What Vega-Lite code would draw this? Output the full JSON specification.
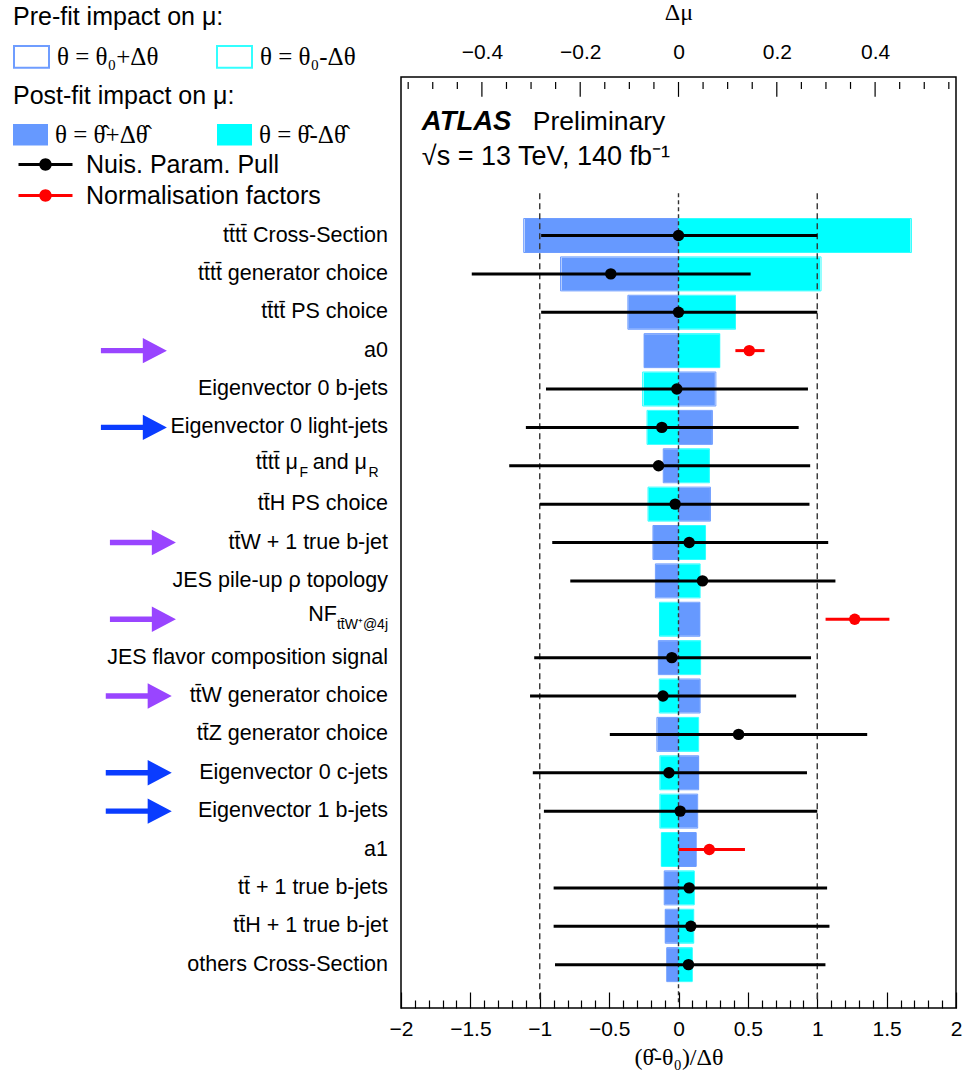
{
  "$schema": "https://vega.github.io/schema/vega-lite/v6.json",
  "width": 555,
  "height": 931,
  "autosize": "none",
  "padding": {"left": 401, "top": 77, "right": 8, "bottom": 73},
  "background": "white",
  "config": {
    "view": {"stroke": "black", "strokeWidth": 1.5},
    "font": "Liberation Sans",
    "legend": {"padding": 0}
  },
  "datasets": {
    "impacts": [
      {"i": 0, "label": "tt\u0304tt\u0304 Cross-Section", "up": -0.313, "dn": 0.472, "pre_up": -0.315, "pre_dn": 0.474, "pull": 0.0, "lo": -0.99, "hi": 1.0, "type": "Nuis. Param. Pull"},
      {"i": 1, "label": "tt\u0304tt\u0304 generator choice", "up": -0.238, "dn": 0.288, "pre_up": -0.24, "pre_dn": 0.29, "pull": -0.488, "lo": -1.49, "hi": 0.52, "type": "Nuis. Param. Pull"},
      {"i": 2, "label": "tt\u0304tt\u0304 PS choice", "up": -0.102, "dn": 0.115, "pre_up": -0.103, "pre_dn": 0.116, "pull": 0.0, "lo": -0.99, "hi": 1.0, "type": "Nuis. Param. Pull"},
      {"i": 3, "label": "a0", "up": -0.07, "dn": 0.084, "pre_up": -0.07, "pre_dn": 0.084, "pull": 0.51, "lo": 0.41, "hi": 0.62, "type": "Normalisation factors"},
      {"i": 4, "label": "Eigenvector 0 b-jets", "up": 0.074, "dn": -0.071, "pre_up": 0.076, "pre_dn": -0.073, "pull": -0.012, "lo": -0.955, "hi": 0.933, "type": "Nuis. Param. Pull"},
      {"i": 5, "label": "Eigenvector 0 light-jets", "up": 0.068, "dn": -0.063, "pre_up": 0.069, "pre_dn": -0.064, "pull": -0.12, "lo": -1.1, "hi": 0.866, "type": "Nuis. Param. Pull"},
      {"i": 6, "label": "tt\u0304tt\u0304 \u03bc", "up": -0.0305, "dn": 0.062, "pre_up": -0.031, "pre_dn": 0.063, "pull": -0.144, "lo": -1.22, "hi": 0.949, "type": "Nuis. Param. Pull"},
      {"i": 7, "label": "tt\u0304H PS choice", "up": 0.064, "dn": -0.061, "pre_up": 0.065, "pre_dn": -0.062, "pull": -0.024, "lo": -0.998, "hi": 0.944, "type": "Nuis. Param. Pull"},
      {"i": 8, "label": "tt\u0304W + 1 true b-jet", "up": -0.0515, "dn": 0.054, "pre_up": -0.052, "pre_dn": 0.055, "pull": 0.077, "lo": -0.91, "hi": 1.079, "type": "Nuis. Param. Pull"},
      {"i": 9, "label": "JES pile-up \u03c1 topology", "up": -0.046, "dn": 0.0435, "pre_up": -0.047, "pre_dn": 0.044, "pull": 0.173, "lo": -0.78, "hi": 1.131, "type": "Nuis. Param. Pull"},
      {"i": 10, "label": "NF", "up": 0.0435, "dn": -0.0387, "pre_up": 0.0435, "pre_dn": -0.0387, "pull": 1.27, "lo": 1.06, "hi": 1.52, "type": "Normalisation factors"},
      {"i": 11, "label": "JES flavor composition signal", "up": -0.0407, "dn": 0.044, "pre_up": -0.041, "pre_dn": 0.045, "pull": -0.048, "lo": -1.04, "hi": 0.955, "type": "Nuis. Param. Pull"},
      {"i": 12, "label": "tt\u0304W generator choice", "up": 0.0435, "dn": -0.038, "pre_up": 0.044, "pre_dn": -0.039, "pull": -0.112, "lo": -1.07, "hi": 0.848, "type": "Nuis. Param. Pull"},
      {"i": 13, "label": "tt\u0304Z generator choice", "up": -0.0427, "dn": 0.04, "pre_up": -0.044, "pre_dn": 0.041, "pull": 0.433, "lo": -0.495, "hi": 1.36, "type": "Nuis. Param. Pull"},
      {"i": 14, "label": "Eigenvector 0 c-jets", "up": 0.041, "dn": -0.037, "pre_up": 0.041, "pre_dn": -0.038, "pull": -0.069, "lo": -1.05, "hi": 0.926, "type": "Nuis. Param. Pull"},
      {"i": 15, "label": "Eigenvector 1 b-jets", "up": 0.038, "dn": -0.037, "pre_up": 0.039, "pre_dn": -0.038, "pull": 0.012, "lo": -0.97, "hi": 1.0, "type": "Nuis. Param. Pull"},
      {"i": 16, "label": "a1", "up": 0.036, "dn": -0.035, "pre_up": 0.036, "pre_dn": -0.035, "pull": 0.222, "lo": 0.0, "hi": 0.479, "type": "Normalisation factors"},
      {"i": 17, "label": "tt\u0304 + 1 true b-jets", "up": -0.0285, "dn": 0.032, "pre_up": -0.029, "pre_dn": 0.032, "pull": 0.077, "lo": -0.9, "hi": 1.071, "type": "Nuis. Param. Pull"},
      {"i": 18, "label": "tt\u0304H + 1 true b-jet", "up": -0.027, "dn": 0.0305, "pre_up": -0.027, "pre_dn": 0.031, "pull": 0.089, "lo": -0.9, "hi": 1.088, "type": "Nuis. Param. Pull"},
      {"i": 19, "label": "others Cross-Section", "up": -0.0236, "dn": 0.028, "pre_up": -0.024, "pre_dn": 0.028, "pull": 0.072, "lo": -0.89, "hi": 1.059, "type": "Nuis. Param. Pull"}
    ],
    "pieces": [
      {"i": 6, "s": "F", "part": "sub1"},
      {"i": 6, "s": "and \u03bc", "part": "mid"},
      {"i": 6, "s": "R", "part": "sub2"},
      {"i": 10, "s": "tt\u0304W\u207a@4j", "part": "nfsub"}
    ],
    "arrows": [
      {"i": 3, "c": "purple", "g": "a"},
      {"i": 5, "c": "blue", "g": "a"},
      {"i": 8, "c": "purple", "g": "b"},
      {"i": 10, "c": "purple", "g": "b"},
      {"i": 12, "c": "purple", "g": "c"},
      {"i": 14, "c": "blue", "g": "c"},
      {"i": 15, "c": "blue", "g": "c"}
    ],
    "dmu_ticks": [
      {"v": -0.55, "major": false}, {"v": -0.5, "major": false}, {"v": -0.45, "major": false}, {"v": -0.4, "major": true},
      {"v": -0.35, "major": false}, {"v": -0.3, "major": false}, {"v": -0.25, "major": false}, {"v": -0.2, "major": true},
      {"v": -0.15, "major": false}, {"v": -0.1, "major": false}, {"v": -0.05, "major": false}, {"v": 0, "major": true},
      {"v": 0.05, "major": false}, {"v": 0.1, "major": false}, {"v": 0.15, "major": false}, {"v": 0.2, "major": true},
      {"v": 0.25, "major": false}, {"v": 0.3, "major": false}, {"v": 0.35, "major": false}, {"v": 0.4, "major": true},
      {"v": 0.45, "major": false}, {"v": 0.5, "major": false}, {"v": 0.55, "major": false}
    ],
    "guides": [{"x": -1}, {"x": 0}, {"x": 1}]
  },
  "layer": [
    {
      "data": {"name": "impacts"},
      "mark": {"type": "bar", "height": 34, "orient": "horizontal", "fill": "transparent", "strokeWidth": 1},
      "encoding": {
        "y": {"field": "i", "type": "quantitative", "scale": {"domain": [-4, 20], "reverse": true, "nice": false, "zero": false}, "axis": null},
        "x": {"field": "pre_up", "type": "quantitative", "scale": {"domain": [-0.5646, 0.5646], "nice": false, "zero": false}, "axis": null},
        "x2": {"datum": 0},
        "stroke": {"datum": "\u03b8 = \u03b8\u2080+\u0394\u03b8", "type": "nominal",
          "scale": {"domain": ["\u03b8 = \u03b8\u2080+\u0394\u03b8", "\u03b8 = \u03b8\u2080-\u0394\u03b8"], "range": ["#6f9dff", "#33ffff"]},
          "legend": {"title": "Pre-fit impact on \u03bc:", "orient": "none", "legendX": -388, "legendY": -72, "direction": "horizontal", "columns": 2,
            "symbolType": "M-1,-0.62H1V0.62H-1Z", "symbolSize": 1225, "symbolStrokeWidth": 2, "symbolFillColor": "white",
            "labelFont": "Liberation Serif", "labelFontSize": 25, "labelColor": "black", "labelOffset": 7, "labelLimit": 400,
            "titleFont": "Liberation Sans", "titleFontSize": 25, "titleFontWeight": "normal", "titleColor": "black", "titlePadding": 8, "titleLimit": 500, "columnPadding": 54}}
      }
    },
    {
      "data": {"name": "impacts"},
      "mark": {"type": "bar", "height": 34, "orient": "horizontal", "fill": "transparent", "strokeWidth": 1},
      "encoding": {
        "y": {"field": "i", "type": "quantitative", "scale": {"domain": [-4, 20], "reverse": true, "nice": false, "zero": false}, "axis": null},
        "x": {"field": "pre_dn", "type": "quantitative", "scale": {"domain": [-0.5646, 0.5646], "nice": false, "zero": false}, "axis": null},
        "x2": {"datum": 0},
        "stroke": {"datum": "\u03b8 = \u03b8\u2080-\u0394\u03b8", "type": "nominal"}
      }
    },
    {
      "data": {"name": "impacts"},
      "mark": {"type": "bar", "height": 33, "orient": "horizontal"},
      "encoding": {
        "y": {"field": "i", "type": "quantitative", "scale": {"domain": [-4, 20], "reverse": true, "nice": false, "zero": false}, "axis": null},
        "x": {"field": "up", "type": "quantitative", "scale": {"domain": [-0.5646, 0.5646], "nice": false, "zero": false}, "axis": null},
        "x2": {"datum": 0},
        "fill": {"datum": "\u03b8 = \u03b8\u0302+\u0394\u03b8\u0302", "type": "nominal",
          "scale": {"domain": ["\u03b8 = \u03b8\u0302+\u0394\u03b8\u0302", "\u03b8 = \u03b8\u0302-\u0394\u03b8\u0302"], "range": ["#6699ff", "#00ffff"]},
          "legend": {"title": "Post-fit impact on \u03bc:", "orient": "none", "legendX": -388, "legendY": 7, "direction": "horizontal", "columns": 2,
            "symbolType": "M-1,-0.62H1V0.62H-1Z", "symbolSize": 1225, "symbolStrokeWidth": 0,
            "labelFont": "Liberation Serif", "labelFontSize": 25, "labelColor": "black", "labelOffset": 7, "labelLimit": 400,
            "titleFont": "Liberation Sans", "titleFontSize": 25, "titleFontWeight": "normal", "titleColor": "black", "titlePadding": 8, "titleLimit": 500, "columnPadding": 69}}
      }
    },
    {
      "data": {"name": "impacts"},
      "mark": {"type": "bar", "height": 33, "orient": "horizontal"},
      "encoding": {
        "y": {"field": "i", "type": "quantitative", "scale": {"domain": [-4, 20], "reverse": true, "nice": false, "zero": false}, "axis": null},
        "x": {"field": "dn", "type": "quantitative", "scale": {"domain": [-0.5646, 0.5646], "nice": false, "zero": false}, "axis": null},
        "x2": {"datum": 0},
        "fill": {"datum": "\u03b8 = \u03b8\u0302-\u0394\u03b8\u0302", "type": "nominal"}
      }
    },
    {
      "data": {"name": "dmu_ticks"},
      "transform": [{"filter": "datum.major"}],
      "mark": {"type": "rule", "color": "black", "strokeWidth": 1.2},
      "encoding": {
        "x": {"field": "v", "type": "quantitative", "scale": {"domain": [-0.5646, 0.5646], "nice": false, "zero": false},
          "axis": {
            "orient": "top", "title": "\u0394\u03bc", "titleFont": "Liberation Serif", "titleFontSize": 24, "titleFontWeight": "normal", "titleColor": "black", "titlePadding": 17,
            "values": [-0.4, -0.2, 0, 0.2, 0.4], "ticks": false,
            "labelExpr": "datum.value == 0 ? '0' : format(datum.value, '.1f')",
            "labelFontSize": 21, "labelColor": "black", "labelPadding": 15, "labelOverlap": false, "labelFlush": false,
            "domain": false, "grid": false
          }},
        "y": {"datum": -4, "type": "quantitative", "scale": {"domain": [-4, 20], "reverse": true, "nice": false, "zero": false}, "axis": null},
        "y2": {"datum": -3.6133}
      }
    },
    {
      "data": {"name": "dmu_ticks"},
      "transform": [{"filter": "!datum.major"}],
      "mark": {"type": "rule", "color": "black", "strokeWidth": 1.2},
      "encoding": {
        "x": {"field": "v", "type": "quantitative", "scale": {"domain": [-0.5646, 0.5646], "nice": false, "zero": false}, "axis": null},
        "y": {"datum": -4, "type": "quantitative", "scale": {"domain": [-4, 20], "reverse": true, "nice": false, "zero": false}, "axis": null},
        "y2": {"datum": -3.8196}
      }
    },
    {
      "data": {"values": [{}]},
      "mark": {"type": "point", "opacity": 0},
      "encoding": {
        "x": {"datum": 0, "type": "quantitative", "scale": {"domain": [-2, 2], "nice": false, "zero": false},
          "axis": {
            "orient": "bottom", "offset": -16, "title": "(\u03b8\u0302-\u03b8\u2080)/\u0394\u03b8", "titleFont": "Liberation Serif", "titleFontSize": 24, "titleFontWeight": "normal", "titleColor": "black", "titlePadding": 6,
            "values": [-2, -1.5, -1, -0.5, 0, 0.5, 1, 1.5, 2],
            "tickSize": 16, "tickColor": "black", "tickWidth": 1.2,
            "labelExpr": "format(datum.value, '~g')",
            "labelFontSize": 21, "labelColor": "black", "labelPadding": 10, "labelOverlap": false, "labelFlush": false,
            "domain": false, "grid": false
          }},
        "y": {"datum": 0, "type": "quantitative", "scale": {"domain": [-4, 20], "reverse": true, "nice": false, "zero": false}, "axis": null}
      }
    },
    {
      "data": {"values": [{}]},
      "mark": {"type": "point", "opacity": 0},
      "encoding": {
        "x": {"datum": 0, "type": "quantitative", "scale": {"domain": [-2, 2], "nice": false, "zero": false},
          "axis": {"orient": "bottom", "offset": -8, "title": null, "labels": false, "domain": false, "grid": false,
            "values": [-1.9, -1.8, -1.7, -1.6, -1.4, -1.3, -1.2, -1.1, -0.9, -0.8, -0.7, -0.6, -0.4, -0.3, -0.2, -0.1, 0.1, 0.2, 0.3, 0.4, 0.6, 0.7, 0.8, 0.9, 1.1, 1.2, 1.3, 1.4, 1.6, 1.7, 1.8, 1.9],
            "tickSize": 8, "tickColor": "black", "tickWidth": 1.2}},
        "y": {"datum": 0, "type": "quantitative", "scale": {"domain": [-4, 20], "reverse": true, "nice": false, "zero": false}, "axis": null}
      }
    },
    {
      "data": {"name": "guides"},
      "mark": {"type": "rule", "color": "#333333", "strokeWidth": 1.4},
      "encoding": {
        "x": {"field": "x", "type": "quantitative", "scale": {"domain": [-2, 2], "nice": false, "zero": false}, "axis": null},
        "y": {"datum": -1.1, "type": "quantitative", "scale": {"domain": [-4, 20], "reverse": true, "nice": false, "zero": false}, "axis": null},
        "y2": {"datum": 20},
        "strokeDash": {"condition": {"test": "datum.x == 0", "value": [4, 3]}, "value": [6, 4]}
      }
    },
    {
      "data": {"name": "impacts"},
      "mark": {"type": "rule", "strokeWidth": 3},
      "encoding": {
        "x": {"field": "lo", "type": "quantitative", "scale": {"domain": [-2, 2], "nice": false, "zero": false}, "axis": null},
        "x2": {"field": "hi"},
        "y": {"field": "i", "type": "quantitative", "scale": {"domain": [-4, 20], "reverse": true, "nice": false, "zero": false}, "axis": null},
        "color": {"field": "type", "type": "nominal", "scale": {"domain": ["Nuis. Param. Pull", "Normalisation factors"], "range": ["black", "#ff0000"]}}
      }
    },
    {
      "data": {"name": "impacts"},
      "mark": {"type": "point", "filled": true, "opacity": 1, "size": 130, "shape": "circle"},
      "encoding": {
        "x": {"field": "pull", "type": "quantitative", "scale": {"domain": [-2, 2], "nice": false, "zero": false}, "axis": null},
        "y": {"field": "i", "type": "quantitative", "scale": {"domain": [-4, 20], "reverse": true, "nice": false, "zero": false}, "axis": null},
        "color": {"field": "type", "type": "nominal", "scale": {"domain": ["Nuis. Param. Pull", "Normalisation factors"], "range": ["black", "#ff0000"]},
          "legend": {"title": null, "orient": "none", "legendX": -368, "legendY": 75, "direction": "vertical",
            "symbolType": "M-2.7,-0.15H2.7V0.15H-2.7Z M-0.62,0A0.62,0.62,0,1,1,0.62,0A0.62,0.62,0,1,1,-0.62,0Z", "symbolSize": 400, "symbolStrokeWidth": 0,
            "labelFont": "Liberation Sans", "labelFontSize": 25, "labelColor": "black", "labelOffset": 28, "labelLimit": 400, "rowPadding": 5}}
      }
    },
    {
      "data": {"name": "impacts"},
      "transform": [{"filter": "datum.i != 6 && datum.i != 10"}],
      "mark": {"type": "text", "align": "right", "baseline": "middle", "dx": -13, "fontSize": 21.5, "color": "black"},
      "encoding": {
        "x": {"datum": -2, "type": "quantitative", "scale": {"domain": [-2, 2], "nice": false, "zero": false}, "axis": null},
        "y": {"field": "i", "type": "quantitative", "scale": {"domain": [-4, 20], "reverse": true, "nice": false, "zero": false}, "axis": null},
        "text": {"field": "label"}
      }
    },
    {
      "data": {"name": "impacts"},
      "transform": [{"filter": "datum.i == 6"}],
      "mark": {"type": "text", "align": "right", "baseline": "middle", "dx": -103, "dy": -3, "fontSize": 21.5, "color": "black"},
      "encoding": {
        "x": {"datum": -2, "type": "quantitative", "scale": {"domain": [-2, 2], "nice": false, "zero": false}, "axis": null},
        "y": {"field": "i", "type": "quantitative", "scale": {"domain": [-4, 20], "reverse": true, "nice": false, "zero": false}, "axis": null},
        "text": {"field": "label"}
      }
    },
    {
      "data": {"name": "impacts"},
      "transform": [{"filter": "datum.i == 10"}],
      "mark": {"type": "text", "align": "right", "baseline": "middle", "dx": -64, "dy": -4, "fontSize": 21.5, "color": "black"},
      "encoding": {
        "x": {"datum": -2, "type": "quantitative", "scale": {"domain": [-2, 2], "nice": false, "zero": false}, "axis": null},
        "y": {"field": "i", "type": "quantitative", "scale": {"domain": [-4, 20], "reverse": true, "nice": false, "zero": false}, "axis": null},
        "text": {"field": "label"}
      }
    },
    {
      "data": {"name": "pieces"},
      "transform": [{"filter": "datum.part == 'sub1'"}],
      "mark": {"type": "text", "align": "left", "baseline": "middle", "dx": -101.5, "dy": 7, "fontSize": 14, "color": "black"},
      "encoding": {
        "x": {"datum": -2, "type": "quantitative", "scale": {"domain": [-2, 2], "nice": false, "zero": false}, "axis": null},
        "y": {"field": "i", "type": "quantitative", "scale": {"domain": [-4, 20], "reverse": true, "nice": false, "zero": false}, "axis": null},
        "text": {"field": "s"}
      }
    },
    {
      "data": {"name": "pieces"},
      "transform": [{"filter": "datum.part == 'mid'"}],
      "mark": {"type": "text", "align": "right", "baseline": "middle", "dx": -34, "dy": -3, "fontSize": 21.5, "color": "black"},
      "encoding": {
        "x": {"datum": -2, "type": "quantitative", "scale": {"domain": [-2, 2], "nice": false, "zero": false}, "axis": null},
        "y": {"field": "i", "type": "quantitative", "scale": {"domain": [-4, 20], "reverse": true, "nice": false, "zero": false}, "axis": null},
        "text": {"field": "s"}
      }
    },
    {
      "data": {"name": "pieces"},
      "transform": [{"filter": "datum.part == 'sub2'"}],
      "mark": {"type": "text", "align": "left", "baseline": "middle", "dx": -32.5, "dy": 7, "fontSize": 14, "color": "black"},
      "encoding": {
        "x": {"datum": -2, "type": "quantitative", "scale": {"domain": [-2, 2], "nice": false, "zero": false}, "axis": null},
        "y": {"field": "i", "type": "quantitative", "scale": {"domain": [-4, 20], "reverse": true, "nice": false, "zero": false}, "axis": null},
        "text": {"field": "s"}
      }
    },
    {
      "data": {"name": "pieces"},
      "transform": [{"filter": "datum.part == 'nfsub'"}],
      "mark": {"type": "text", "align": "right", "baseline": "middle", "dx": -13, "dy": 6, "fontSize": 14, "color": "black"},
      "encoding": {
        "x": {"datum": -2, "type": "quantitative", "scale": {"domain": [-2, 2], "nice": false, "zero": false}, "axis": null},
        "y": {"field": "i", "type": "quantitative", "scale": {"domain": [-4, 20], "reverse": true, "nice": false, "zero": false}, "axis": null},
        "text": {"field": "s"}
      }
    },
    {
      "data": {"name": "arrows"},
      "transform": [{"filter": "datum.g == 'a'"}],
      "mark": {"type": "point", "filled": true, "opacity": 1, "size": 4356, "shape": "M-1,-0.08L0.27,-0.08L0.27,-0.386L1,0L0.27,0.386L0.27,0.08L-1,0.08Z"},
      "encoding": {
        "x": {"datum": -3.925, "type": "quantitative", "scale": {"domain": [-2, 2], "nice": false, "zero": false}, "axis": null},
        "y": {"field": "i", "type": "quantitative", "scale": {"domain": [-4, 20], "reverse": true, "nice": false, "zero": false}, "axis": null},
        "fill": {"condition": {"test": "datum.c == 'purple'", "value": "#9945ff"}, "value": "#0a3cff"}
      }
    },
    {
      "data": {"name": "arrows"},
      "transform": [{"filter": "datum.g == 'b'"}],
      "mark": {"type": "point", "filled": true, "opacity": 1, "size": 4356, "dy": 7, "shape": "M-1,-0.08L0.27,-0.08L0.27,-0.386L1,0L0.27,0.386L0.27,0.08L-1,0.08Z"},
      "encoding": {
        "x": {"datum": -3.86, "type": "quantitative", "scale": {"domain": [-2, 2], "nice": false, "zero": false}, "axis": null},
        "y": {"field": "i", "type": "quantitative", "scale": {"domain": [-4, 20], "reverse": true, "nice": false, "zero": false}, "axis": null},
        "fill": {"condition": {"test": "datum.c == 'purple'", "value": "#9945ff"}, "value": "#0a3cff"}
      }
    },
    {
      "data": {"name": "arrows"},
      "transform": [{"filter": "datum.g == 'c'"}],
      "mark": {"type": "point", "filled": true, "opacity": 1, "size": 4356, "shape": "M-1,-0.08L0.27,-0.08L0.27,-0.386L1,0L0.27,0.386L0.27,0.08L-1,0.08Z"},
      "encoding": {
        "x": {"datum": -3.89, "type": "quantitative", "scale": {"domain": [-2, 2], "nice": false, "zero": false}, "axis": null},
        "y": {"field": "i", "type": "quantitative", "scale": {"domain": [-4, 20], "reverse": true, "nice": false, "zero": false}, "axis": null},
        "fill": {"condition": {"test": "datum.c == 'purple'", "value": "#9945ff"}, "value": "#0a3cff"}
      }
    },
    {
      "data": {"values": [{}]},
      "mark": {"type": "text", "align": "left", "baseline": "alphabetic", "fontSize": 27.5, "fontStyle": "italic", "fontWeight": "bold", "color": "black"},
      "encoding": {
        "x": {"datum": -1.85, "type": "quantitative", "scale": {"domain": [-2, 2], "nice": false, "zero": false}, "axis": null},
        "y": {"datum": -2.74, "type": "quantitative", "scale": {"domain": [-4, 20], "reverse": true, "nice": false, "zero": false}, "axis": null},
        "text": {"value": "ATLAS"}
      }
    },
    {
      "data": {"values": [{}]},
      "mark": {"type": "text", "align": "left", "baseline": "alphabetic", "fontSize": 26.5, "color": "black"},
      "encoding": {
        "x": {"datum": -1.05, "type": "quantitative", "scale": {"domain": [-2, 2], "nice": false, "zero": false}, "axis": null},
        "y": {"datum": -2.74, "type": "quantitative", "scale": {"domain": [-4, 20], "reverse": true, "nice": false, "zero": false}, "axis": null},
        "text": {"value": "Preliminary"}
      }
    },
    {
      "data": {"values": [{}]},
      "mark": {"type": "text", "align": "left", "baseline": "alphabetic", "fontSize": 27, "color": "black"},
      "encoding": {
        "x": {"datum": -1.85, "type": "quantitative", "scale": {"domain": [-2, 2], "nice": false, "zero": false}, "axis": null},
        "y": {"datum": -1.84, "type": "quantitative", "scale": {"domain": [-4, 20], "reverse": true, "nice": false, "zero": false}, "axis": null},
        "text": {"value": "\u221as = 13 TeV, 140 fb\u207b\u00b9"}
      }
    }
  ],
  "resolve": {"scale": {"x": "independent"}}
}
